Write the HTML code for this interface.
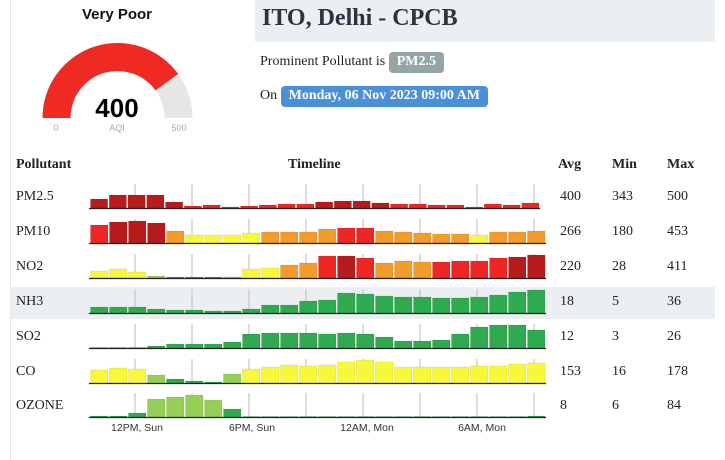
<!DOCTYPE html>
<html><head><meta charset="utf-8"><style>
body{margin:0;width:725px;height:460px;background:#fff;overflow:hidden;position:relative;font-family:"Liberation Serif",serif;color:#333}
.abs{position:absolute}
.hdr{left:255px;top:0;width:460px;height:42px;background:#eceff1}
.hdr span{position:absolute;left:7px;top:5px;font:bold 24px "Liberation Serif",serif;color:#2b3440}
.badge{display:inline-block;color:#fff;font-weight:bold;border-radius:4px;padding:2px 8px 3px}
.t{position:absolute;font-size:14px;color:#222}
.b{font-weight:bold}
</style></head><body>
<div class="abs" style="left:10px;top:0;width:1px;height:460px;background:#e6e6e6"></div>
<div class="abs" style="left:11px;top:287px;width:704px;height:32px;background:#eceff1"></div>
<div class="abs hdr"><span>ITO, Delhi - CPCB</span></div>
<div class="t" style="left:260px;top:52px;font-size:14px">Prominent Pollutant is <span class="badge" style="background:#95a5a6">PM2.5</span></div>
<div class="t" style="left:260px;top:86px;font-size:14px">On <span class="badge" style="background:#4a90d9">Monday, 06 Nov 2023 09:00 AM</span></div>
<div class="abs" style="left:57px;top:6px;width:120px;text-align:center;font:bold 15px 'Liberation Sans',sans-serif;color:#111">Very Poor</div>
<svg class="abs" style="left:0;top:0" width="250" height="150">
<path id="g" fill="#e6e6e6"/><path id="r" fill="#ee2a22"/>
<text x="117" y="117" text-anchor="middle" font-family="Liberation Sans" font-weight="bold" font-size="26" fill="#000">400</text>
<text x="56" y="131" text-anchor="middle" font-family="Liberation Sans" font-size="9" fill="#aaa">0</text>
<text x="117" y="131" text-anchor="middle" font-family="Liberation Sans" font-size="9" fill="#aaa">AQI</text>
<text x="179" y="131" text-anchor="middle" font-family="Liberation Sans" font-size="9" fill="#aaa">500</text>
</svg>
<div class="t b" style="left:16px;top:157px">Pollutant</div>
<div class="t b" style="left:288px;top:157px">Timeline</div>
<div class="t b" style="left:558px;top:157px">Avg</div>
<div class="t b" style="left:612px;top:157px">Min</div>
<div class="t b" style="left:667px;top:157px">Max</div>
<div id="rows"></div>
<svg id="ch" class="abs" style="left:0;top:0" width="725" height="460"></svg>
<script>
function arc(a0,a1,ro,ri,cx,cy){var p=function(r,a){return [cx-r*Math.cos(a),cy-r*Math.sin(a)]};
var A=p(ro,a0),B=p(ro,a1),C=p(ri,a1),D=p(ri,a0);
return "M"+A+" A"+ro+" "+ro+" 0 0 1 "+B+" L"+C+" A"+ri+" "+ri+" 0 0 0 "+D+"Z";}
var cx=117.5,cy=118;
document.getElementById('g').setAttribute('d',arc(0,Math.PI,75,47,cx,cy));
document.getElementById('r').setAttribute('d',arc(0,Math.PI*0.8,75,47,cx,cy));
var C={D:'#b71c1c',R:'#ee2626',O:'#f39c2a',Y:'#f8f83a',L:'#95cf55',G:'#2eaa50'};
var rows=[
['PM2.5',208,18.75,'400','343','500',[9,13,13,13,6,2,3,1,2,3,4,4,6,7,7,5,4,4,3,3,1,4,3,5],'DDDDDRRRRRRRDDDDRRRRRRRR'],
['PM10',243,19,'266','180','453',[18,21,22,20,12,8,8,8,10,11,11,11,14,15,15,12,11,10,9,9,8,11,11,12],'RDDDOYYYYOOOORROOOOOYOOO'],
['NO2',278,19,'220','28','411',[7,9,6,2,1,1,1,1,9,10,13,15,22,22,20,15,17,16,16,17,17,20,21,23],'YYYLGGGLYYOORDROOORRRRD'+'D'],
['NH3',313,19,'18','5','36',[6,6,6,4,3,3,2,2,4,8,8,12,13,20,19,17,16,16,15,15,16,18,21,23],'GGGGGGGGGGGGGGGGGGGGGGGG'],
['SO2',348,19,'12','3','26',[0.5,0.5,0.5,2,4,4,4,6,14,15,15,15,14,15,14,11,7,7,8,14,21,23,23,18],'GGGGGGGGGGGGGGGGGGGGGGGG'],
['CO',383,19,'153','16','178',[13,15,14,8,4,2,1,9,14,16,18,17,18,21,23,21,16,16,16,16,17,17,19,20],'YYYLGGGLYYYYYYYYYYYYYYYY'],
['OZONE',417,19,'8','6','84',[1,1,4,18,20,22,17,8,0.5,0.5,0.5,0.5,0.5,0.5,0.5,0.5,0.5,0.5,0.5,0.5,0.5,0.5,0.5,1],'GGGLLLLGGGGGGGGGGGGGGGGG']];
var s='',h='';
rows.forEach(function(r){var y=r[1],p=r[2];
h+='<div class="t" style="left:16px;top:'+(y-19)+'px">'+r[0]+'</div><div class="t" style="left:560px;top:'+(y-19)+'px">'+r[3]+'</div><div class="t" style="left:612px;top:'+(y-19)+'px">'+r[4]+'</div><div class="t" style="left:667px;top:'+(y-19)+'px">'+r[5]+'</div>';
for(var k=0;k<8;k++){var x=135+k*57;s+='<line x1="'+x+'" x2="'+x+'" y1="'+(y-24)+'" y2="'+y+'" stroke="#bbb" stroke-width="1"/>';}
r[6].forEach(function(v,i){var c=C[r[7][i]]||C.G;s+='<rect x="'+(90+i*p+0.5)+'" y="'+(y-v)+'" width="'+(p-1.5)+'" height="'+v+'" fill="'+c+'" stroke="rgba(0,0,0,0.12)" stroke-width="0.6"/>';});
s+='<line x1="89" x2="'+(90+24*p)+'" y1="'+(y+0.5)+'" y2="'+(y+0.5)+'" stroke="#222" stroke-width="1.3"/>';});
[['12PM, Sun',137],['6PM, Sun',252],['12AM, Mon',367],['6AM, Mon',482]].forEach(function(l){s+='<text x="'+l[1]+'" y="431" text-anchor="middle" font-family="Liberation Sans" font-size="10.5" fill="#333">'+l[0]+'</text>';});
document.getElementById('ch').innerHTML=s;document.getElementById('rows').innerHTML=h;
</script>
</body></html>
